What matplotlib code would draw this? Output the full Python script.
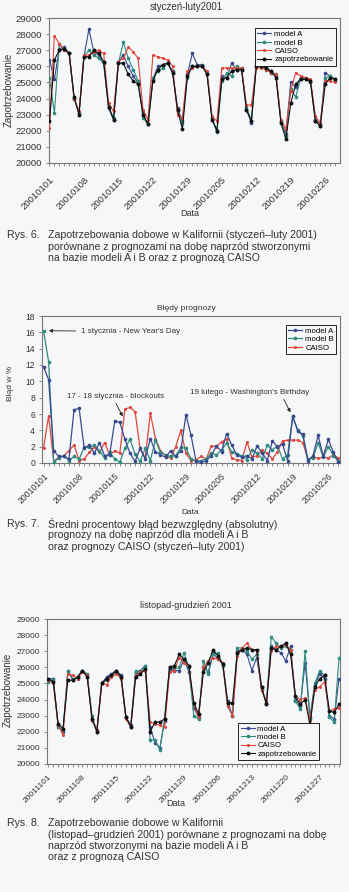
import matplotlib
matplotlib.use("Agg")
import matplotlib.pyplot as plt
import numpy as np

plt.rcParams["font.family"] = ["Liberation Sans", "DejaVu Sans"]

# ---- Rys. 6: styczeń-luty 2001 (59 dni) ----
jf_ticks = ["20010101", "20010108", "20010115", "20010122", "20010129",
            "20010205", "20010212", "20010219", "20010226"]
jf_demand = [22600, 26400, 27000, 27100, 26800, 24100, 23000, 26600, 26600, 27000,
             26800, 26300, 23500, 22700, 26200, 26200, 25500, 25100, 24900, 23000,
             22400, 25100, 25800, 26100, 26200, 25600, 23300, 22100, 25400, 26000,
             26000, 26000, 25500, 22700, 22000, 25200, 25300, 25700, 25800, 25800,
             23300, 22600, 26000, 26000, 25900, 25700, 25300, 22500, 21500, 23700,
             24900, 25200, 25200, 25100, 22600, 22300, 24900, 25300, 25200]
jf_caiso = [22200, 27900, 27400, 27000, 26800, 24000, 23200, 26700, 26700, 26900,
            27000, 26800, 23700, 23200, 26300, 26500, 27200, 26900, 26500, 23300,
            22700, 26700, 26600, 26500, 26400, 26000, 23000, 22800, 25700, 25900,
            26000, 26000, 25700, 22900, 22600, 25900, 25900, 25900, 25900, 25900,
            23600, 23600, 25900, 25900, 25800, 25600, 25500, 22700, 22100, 24500,
            25600, 25400, 25300, 25200, 22900, 22500, 25100, 25100, 25000]
jf_model_a = [26400, 25200, 27100, 27200, 26800, 24000, 23100, 26600, 28300, 26900,
              26700, 26200, 23400, 22700, 26300, 26700, 26000, 25400, 25000, 23100,
              22400, 25200, 26000, 26100, 26200, 25700, 23400, 22600, 25500, 26800,
              26100, 26100, 25500, 22800, 22000, 25400, 25300, 26200, 25800, 25900,
              23300, 22500, 26300, 26300, 26000, 25600, 25400, 22600, 21800, 25000,
              24700, 25300, 25300, 25000, 22700, 22400, 25600, 25400, 25200]
jf_model_b = [25300, 23100, 27400, 27000, 26800, 24000, 23100, 26600, 27000, 26700,
              26500, 26200, 23500, 22800, 26200, 27500, 26500, 25800, 25100, 22800,
              22400, 25300, 25700, 25900, 26200, 25600, 23300, 22500, 25300, 26000,
              26000, 26000, 25600, 22800, 21900, 25100, 25600, 25400, 26000, 25800,
              23500, 22600, 26000, 26100, 25800, 25700, 25500, 22600, 21700, 24600,
              24100, 25200, 25200, 25100, 22600, 22300, 25300, 25400, 25100]

# ---- Rys. 7: błędy prognozy [%] ----
err_model_a = [11.8, 10.2, 1.5, 0.8, 0.8, 0.5, 6.5, 6.7, 1.8, 2.2,
               1.2, 2.5, 0.9, 1.0, 5.1, 5.0, 2.9, 1.2, 0.2, 1.8,
               0.5, 3.0, 1.4, 1.0, 0.7, 1.5, 0.8, 1.5, 5.9, 3.4,
               0.2, 0.1, 0.3, 0.9, 2.1, 1.4, 3.6, 2.2, 1.0, 0.7,
               0.9, 0.5, 2.1, 1.2, 0.3, 2.7, 2.0, 2.3, 0.3, 5.7,
               3.9, 3.5, 0.2, 0.9, 3.4, 0.8, 2.9, 1.3, 0.1]
err_model_b = [16.2, 12.4, 0.1, 0.6, 0.9, 0.3, 0.8, 0.5, 1.9, 1.9,
               2.2, 1.5, 0.6, 1.3, 0.5, 0.1, 1.8, 2.9, 1.1, 0.2,
               1.8, 0.3, 2.8, 1.3, 1.0, 0.8, 0.9, 1.9, 1.8, 0.5,
               0.2, 0.3, 0.5, 1.2, 1.0, 1.6, 2.4, 1.4, 1.1, 0.9,
               0.4, 1.6, 1.2, 0.5, 2.2, 1.6, 2.1, 0.5, 1.0, 5.7,
               4.0, 3.3, 0.5, 0.6, 2.5, 0.7, 2.0, 0.9, 0.2]
err_caiso = [1.8, 5.8, 0.2, 0.7, 0.9, 1.5, 2.2, 0.3, 0.5, 1.3,
             2.0, 1.3, 2.5, 1.0, 1.5, 1.2, 6.6, 6.8, 6.3, 1.7,
             0.6, 6.1, 3.0, 1.5, 0.9, 0.6, 2.0, 4.0, 1.2, 0.3,
             0.4, 0.8, 0.5, 2.1, 2.0, 2.6, 2.9, 0.6, 0.4, 0.3,
             2.6, 0.7, 0.9, 1.6, 1.2, 0.5, 1.4, 2.7, 2.8, 2.8,
             2.8, 2.5, 0.4, 0.7, 0.6, 0.7, 0.6, 1.0, 0.6]

# ---- Rys. 8: listopad-grudzień 2001 (61 dni) ----
nd_ticks = ["20011101", "20011108", "20011115", "20011122", "20011129",
            "20011206", "20011213", "20011220", "20011227"]
nd_demand = [25300, 25100, 22500, 22200, 25200, 25200, 25400, 25800, 25400, 22800,
             22000, 25000, 25300, 25500, 25800, 25400, 22900, 22300, 25400, 25600,
             25900, 22000, 22600, 22600, 22800, 26000, 26100, 26800, 26500, 26100,
             23800, 23100, 25700, 26300, 27100, 26700, 26200, 23800, 23800, 26900,
             27100, 27200, 27100, 27100, 24800, 23700, 27200, 27100, 27300, 27500,
             26800, 24200, 23700, 24000, 22400, 24800, 25300, 25500, 23300, 23200,
             23700]
nd_caiso = [25200, 25000, 22400, 21800, 25600, 25500, 25300, 25700, 25500, 22700,
            22100, 25100, 24900, 25400, 25600, 25300, 22800, 22300, 25500, 25700,
            25800, 22600, 22500, 22400, 22300, 25700, 25800, 26600, 26300, 26100,
            23700, 22900, 26000, 26400, 26600, 26500, 26300, 23600, 23000, 26700,
            27200, 27500, 27100, 27000, 24600, 23900, 27000, 27300, 27300, 27400,
            27100, 24200, 24000, 24100, 22700, 24600, 24800, 25100, 23300, 23400,
            23500]
nd_model_a = [25300, 25300, 22400, 22000, 25800, 25200, 25400, 25800, 25500, 22800,
              22100, 25000, 25400, 25600, 25800, 25500, 22900, 22400, 25700, 25800,
              26100, 22300, 21300, 21000, 22700, 25900, 25800, 25800, 26500, 25700,
              23500, 22900, 26000, 25700, 26900, 26500, 26200, 23900, 23000, 27000,
              27100, 26800, 25800, 26600, 24800, 23700, 27300, 27100, 26900, 26400,
              27300, 24000, 23600, 26300, 22900, 24900, 25600, 25300, 23000, 22800,
              25300]
nd_model_b = [25100, 25200, 22300, 22100, 25800, 25300, 25300, 25800, 25600, 23000,
              22000, 25000, 25200, 25500, 25700, 25400, 22900, 22300, 25800, 25700,
              26100, 21500, 21500, 20900, 22800, 26000, 25900, 26000, 26900, 26000,
              23000, 22800, 26400, 25600, 26800, 26900, 26100, 23600, 23000, 27200,
              27200, 27000, 26500, 26800, 24600, 23800, 27900, 27500, 27200, 27300,
              27100, 23900, 23400, 27000, 22800, 25000, 25800, 25500, 22900, 22600,
              26600]

bg = "#f5f7f9"
ink = "#333333"
c_a, c_b, c_c, c_d = "#3a4a8e", "#2f8c7c", "#e0463c", "#111111"

W, H = 349, 892
fig = plt.figure(figsize=(W / 100, H / 100), dpi=100, facecolor=bg)


def px(l, t, r, b):
    return [l / W, 1 - b / H, (r - l) / W, (b - t) / H]


def style(ax, ticks, n, fs=6.6, xpad=5):
    ax.set_facecolor(bg)
    for s in ax.spines.values():
        s.set_color("#777777"); s.set_linewidth(0.8)
    ax.set_xticks(np.arange(0, n, 7))
    ax.set_xticklabels(ticks, rotation=45, ha="right", rotation_mode="anchor", fontsize=fs, color=ink)
    ax.set_xticks(np.arange(n), minor=True)
    ax.tick_params(axis="both", which="both", length=2, width=0.6, color="#777777", labelsize=fs, labelcolor=ink)
    ax.tick_params(axis="x", pad=xpad)
    ax.tick_params(axis="y", pad=3)


def caption(y, num, lines):
    fig.text(7 / W, 1 - y / H, num, fontsize=7.6, color=ink, va="center")
    for k, ln in enumerate(lines):
        fig.text(48 / W, 1 - (y + k * 11.5) / H, ln, fontsize=7.6, color=ink, va="center")


def leg(ax, **kw):
    lg = ax.legend(fontsize=5.6, frameon=True, fancybox=False, edgecolor="#222222",
                   handlelength=1.8, borderpad=0.3, labelspacing=0.12, handletextpad=0.35,
                   framealpha=1, facecolor=bg, **kw)
    lg.get_frame().set_linewidth(0.7)


def draw_load(ax, a, b, c, d):
    x = np.arange(len(d))
    ax.plot(x, a, color=c_a, lw=0.8, marker="o", ms=1.6, label="model A", zorder=3)
    ax.plot(x, b, color=c_b, lw=0.8, marker="o", ms=1.6, label="model B", zorder=3)
    ax.plot(x, c, color=c_c, lw=0.8, marker="o", ms=1.2, label="CAISO", zorder=4)
    ax.plot(x, d, color=c_d, lw=0.8, marker="o", ms=1.8, label="zapotrzebowanie", zorder=5)
    ax.set_ylim(20000, 29000)
    ax.set_yticks(np.arange(20000, 29001, 1000))


# ---------- Rys. 6 ----------
ax1 = fig.add_axes(px(49, 18, 340, 163))
draw_load(ax1, jf_model_a, jf_model_b, jf_caiso, jf_demand)
style(ax1, jf_ticks, len(jf_demand), fs=6.8, xpad=7)
ax1.set_xlim(-0.1, 59)
leg(ax1, loc="upper left", bbox_to_anchor=(0.695, 0.955))
fig.text(186 / W, 1 - 7 / H, "styczeń-luty2001", fontsize=7, color=ink, ha="center", va="center")
fig.text(9 / W, 1 - 90 / H, "Zapotrzebowanie", fontsize=7, color=ink, rotation=90, ha="center", va="center")
fig.text(190 / W, 1 - 214 / H, "Data", fontsize=6.5, color=ink, ha="center", va="center")
caption(235, "Rys. 6.", ["Zapotrzebowania dobowe w Kalifornii (styczeń–luty 2001)",
                         "porównane z prognozami na dobę naprzód stworzonymi",
                         "na bazie modeli A i B oraz z prognozą CAISO"])

# ---------- Rys. 7 ----------
ax2 = fig.add_axes(px(42, 316, 340, 463))
x2 = np.arange(len(err_caiso))
ax2.plot(x2, err_model_a, color=c_a, lw=0.9, marker="o", ms=1.6, label="model A", zorder=4)
ax2.plot(x2, err_model_b, color=c_b, lw=0.9, marker="o", ms=1.6, label="model B", zorder=3)
ax2.plot(x2, err_caiso, color=c_c, lw=0.9, marker="o", ms=1.2, label="CAISO", zorder=2)
ax2.set_ylim(0, 18)
ax2.set_yticks(np.arange(0, 19, 2))
style(ax2, jf_ticks, len(err_caiso), fs=6.2, xpad=4)
ax2.set_xlim(-0.3, 58.3)
leg(ax2, loc="upper right", bbox_to_anchor=(1.0, 0.965))
arr = dict(arrowstyle="-|>", color="#222222", lw=0.6, mutation_scale=5)
ax2.annotate("1 stycznia - New Year's Day", xy=(0.5, 16.2), xytext=(7.4, 16.1), fontsize=5.8,
             color=ink, va="center", arrowprops=arr)
ax2.annotate("17 - 18 stycznia - blockouts", xy=(15.8, 5.4), xytext=(4.6, 8.2), fontsize=5.8,
             color=ink, va="center")
ax2.annotate("", xy=(15.8, 5.4), xytext=(14.0, 7.6), arrowprops=arr)
ax2.annotate("19 lutego - Washington's Birthday", xy=(48.8, 5.9), xytext=(28.8, 8.6), fontsize=5.8,
             color=ink, va="center")
ax2.annotate("", xy=(48.8, 5.9), xytext=(47.0, 8.1), arrowprops=arr)
fig.text(186 / W, 1 - 308 / H, "Błędy prognozy", fontsize=6, color=ink, ha="center", va="center")
fig.text(10 / W, 1 - 383 / H, "Błąd w %", fontsize=6, color=ink, rotation=90, ha="center", va="center")
fig.text(190 / W, 1 - 512 / H, "Data", fontsize=6, color=ink, ha="center", va="center")
caption(524, "Rys. 7.", ["Średni procentowy błąd bezwzględny (absolutny)",
                         "prognozy na dobę naprzód dla modeli A i B",
                         "oraz prognozy CAISO (styczeń–luty 2001)"])

# ---------- Rys. 8 ----------
ax3 = fig.add_axes(px(47, 619, 340, 764))
draw_load(ax3, nd_model_a, nd_model_b, nd_caiso, nd_demand)
style(ax3, nd_ticks, len(nd_demand), fs=6.0, xpad=5)
ax3.set_xlim(-0.3, 60.2)
leg(ax3, loc="lower left", bbox_to_anchor=(0.64, 0.0))
fig.text(186 / W, 1 - 605 / H, "listopad-grudzień 2001", fontsize=6.5, color=ink, ha="center", va="center")
fig.text(8 / W, 1 - 690 / H, "Zapotrzebowanie", fontsize=7, color=ink, rotation=90, ha="center", va="center")
fig.text(176 / W, 1 - 803 / H, "Data", fontsize=6.5, color=ink, ha="center", va="center")
caption(823, "Rys. 8.", ["Zapotrzebowanie dobowe w Kalifornii",
                         "(listopad–grudzień 2001) porównane z prognozami na dobę",
                         "naprzód stworzonymi na bazie modeli A i B",
                         "oraz z prognozą CAISO"])

fig.savefig("out.png", dpi=100, facecolor=bg)
